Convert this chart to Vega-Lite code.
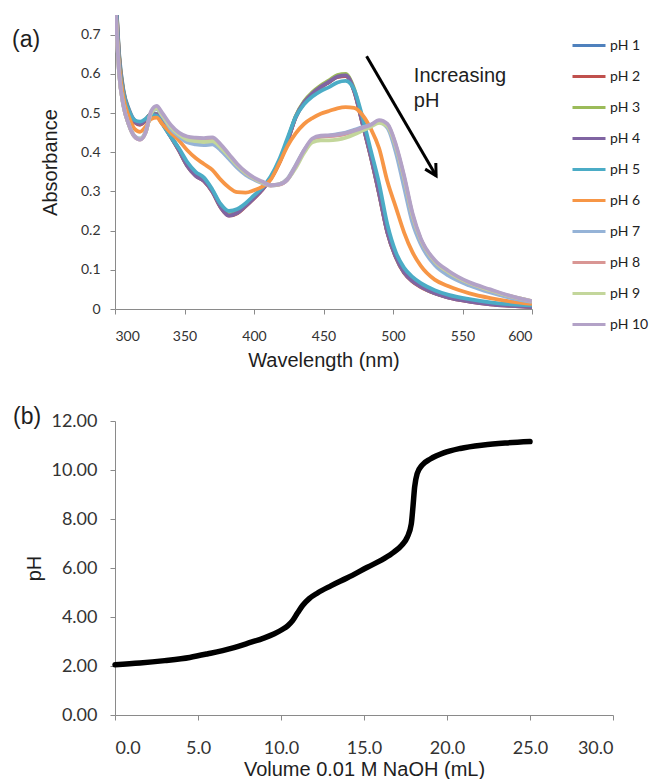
{
"$schema": "https://vega.github.io/schema/vega-lite/v6.json",
"background": "white",
"padding": {"left": 12, "top": 15, "right": 0, "bottom": 0},
"spacing": 36,
"config": {
  "view": {"stroke": null},
  "axis": {"grid": false, "domainColor": "#8a8a8a", "tickColor": "#8a8a8a", "tickSize": 5, "labelColor": "#333333", "titleColor": "#1e1e1e", "titleFontWeight": "normal", "labelFont": "Lato", "titleFont": "Liberation Sans"}
},
"resolve": {"legend": {"color": "independent"}},
"datasets": {
"arrow": [{"x1": 481, "y1": 0.645, "x2": 531, "y2": 0.34}],
"note": [{"x": 515, "y": 0.62, "t": "Increasing\npH"}],
"titration": [
{"v":0,"p":2.05},{"v":1.5,"p":2.12},{"v":3,"p":2.22},{"v":4.5,"p":2.35},{"v":5.6,"p":2.5},{"v":7,"p":2.72},{"v":8.1,"p":2.95},{"v":9,"p":3.15},{"v":9.6,"p":3.32},{"v":10.1,"p":3.5},{"v":10.4,"p":3.64},{"v":10.7,"p":3.85},{"v":11,"p":4.17},{"v":11.3,"p":4.47},{"v":11.7,"p":4.75},{"v":12.2,"p":4.98},{"v":13,"p":5.27},{"v":14,"p":5.6},{"v":15.2,"p":6.03},{"v":16.2,"p":6.38},{"v":16.8,"p":6.65},{"v":17.3,"p":6.95},{"v":17.6,"p":7.25},{"v":17.85,"p":7.8},{"v":17.95,"p":8.5},{"v":18.05,"p":9.3},{"v":18.2,"p":9.85},{"v":18.5,"p":10.2},{"v":19,"p":10.45},{"v":19.8,"p":10.7},{"v":20.8,"p":10.88},{"v":22.2,"p":11.02},{"v":23.5,"p":11.1},{"v":25,"p":11.16}
],
"spectra": [
{"s":"pH 1","w":300,"a":0.85},{"s":"pH 1","w":303,"a":0.65},{"s":"pH 1","w":306,"a":0.56},{"s":"pH 1","w":310,"a":0.51},{"s":"pH 1","w":314,"a":0.482},{"s":"pH 1","w":318,"a":0.475},{"s":"pH 1","w":322,"a":0.484},{"s":"pH 1","w":326,"a":0.498},{"s":"pH 1","w":330,"a":0.498},{"s":"pH 1","w":334,"a":0.477},{"s":"pH 1","w":340,"a":0.443},{"s":"pH 1","w":346,"a":0.408},{"s":"pH 1","w":352,"a":0.368},{"s":"pH 1","w":358,"a":0.343},{"s":"pH 1","w":364,"a":0.329},{"s":"pH 1","w":370,"a":0.302},{"s":"pH 1","w":376,"a":0.262},{"s":"pH 1","w":382,"a":0.241},{"s":"pH 1","w":388,"a":0.247},{"s":"pH 1","w":394,"a":0.265},{"s":"pH 1","w":400,"a":0.285},{"s":"pH 1","w":406,"a":0.306},{"s":"pH 1","w":412,"a":0.334},{"s":"pH 1","w":418,"a":0.373},{"s":"pH 1","w":424,"a":0.428},{"s":"pH 1","w":430,"a":0.49},{"s":"pH 1","w":436,"a":0.527},{"s":"pH 1","w":442,"a":0.55},{"s":"pH 1","w":448,"a":0.566},{"s":"pH 1","w":454,"a":0.579},{"s":"pH 1","w":460,"a":0.592},{"s":"pH 1","w":466,"a":0.595},{"s":"pH 1","w":472,"a":0.557},{"s":"pH 1","w":478,"a":0.475},{"s":"pH 1","w":484,"a":0.39},{"s":"pH 1","w":490,"a":0.296},{"s":"pH 1","w":496,"a":0.196},{"s":"pH 1","w":502,"a":0.134},{"s":"pH 1","w":508,"a":0.094},{"s":"pH 1","w":514,"a":0.072},{"s":"pH 1","w":520,"a":0.058},{"s":"pH 1","w":530,"a":0.041},{"s":"pH 1","w":540,"a":0.03},{"s":"pH 1","w":555,"a":0.02},{"s":"pH 1","w":570,"a":0.013},{"s":"pH 1","w":585,"a":0.009},{"s":"pH 1","w":600,"a":0.006},
{"s":"pH 2","w":300,"a":0.84},{"s":"pH 2","w":303,"a":0.64},{"s":"pH 2","w":306,"a":0.553},{"s":"pH 2","w":310,"a":0.503},{"s":"pH 2","w":314,"a":0.476},{"s":"pH 2","w":318,"a":0.47},{"s":"pH 2","w":322,"a":0.48},{"s":"pH 2","w":326,"a":0.495},{"s":"pH 2","w":330,"a":0.496},{"s":"pH 2","w":334,"a":0.474},{"s":"pH 2","w":340,"a":0.44},{"s":"pH 2","w":346,"a":0.404},{"s":"pH 2","w":352,"a":0.365},{"s":"pH 2","w":358,"a":0.34},{"s":"pH 2","w":364,"a":0.326},{"s":"pH 2","w":370,"a":0.299},{"s":"pH 2","w":376,"a":0.259},{"s":"pH 2","w":382,"a":0.238},{"s":"pH 2","w":388,"a":0.244},{"s":"pH 2","w":394,"a":0.262},{"s":"pH 2","w":400,"a":0.282},{"s":"pH 2","w":406,"a":0.304},{"s":"pH 2","w":412,"a":0.332},{"s":"pH 2","w":418,"a":0.371},{"s":"pH 2","w":424,"a":0.426},{"s":"pH 2","w":430,"a":0.489},{"s":"pH 2","w":436,"a":0.526},{"s":"pH 2","w":442,"a":0.549},{"s":"pH 2","w":448,"a":0.566},{"s":"pH 2","w":454,"a":0.579},{"s":"pH 2","w":460,"a":0.592},{"s":"pH 2","w":466,"a":0.594},{"s":"pH 2","w":472,"a":0.556},{"s":"pH 2","w":478,"a":0.473},{"s":"pH 2","w":484,"a":0.388},{"s":"pH 2","w":490,"a":0.293},{"s":"pH 2","w":496,"a":0.194},{"s":"pH 2","w":502,"a":0.132},{"s":"pH 2","w":508,"a":0.092},{"s":"pH 2","w":514,"a":0.07},{"s":"pH 2","w":520,"a":0.056},{"s":"pH 2","w":530,"a":0.04},{"s":"pH 2","w":540,"a":0.029},{"s":"pH 2","w":555,"a":0.019},{"s":"pH 2","w":570,"a":0.012},{"s":"pH 2","w":585,"a":0.008},{"s":"pH 2","w":600,"a":0.005},
{"s":"pH 3","w":300,"a":0.85},{"s":"pH 3","w":303,"a":0.645},{"s":"pH 3","w":306,"a":0.557},{"s":"pH 3","w":310,"a":0.506},{"s":"pH 3","w":314,"a":0.479},{"s":"pH 3","w":318,"a":0.473},{"s":"pH 3","w":322,"a":0.483},{"s":"pH 3","w":326,"a":0.498},{"s":"pH 3","w":330,"a":0.498},{"s":"pH 3","w":334,"a":0.476},{"s":"pH 3","w":340,"a":0.441},{"s":"pH 3","w":346,"a":0.406},{"s":"pH 3","w":352,"a":0.366},{"s":"pH 3","w":358,"a":0.341},{"s":"pH 3","w":364,"a":0.328},{"s":"pH 3","w":370,"a":0.301},{"s":"pH 3","w":376,"a":0.261},{"s":"pH 3","w":382,"a":0.24},{"s":"pH 3","w":388,"a":0.246},{"s":"pH 3","w":394,"a":0.264},{"s":"pH 3","w":400,"a":0.284},{"s":"pH 3","w":406,"a":0.306},{"s":"pH 3","w":412,"a":0.334},{"s":"pH 3","w":418,"a":0.373},{"s":"pH 3","w":424,"a":0.429},{"s":"pH 3","w":430,"a":0.492},{"s":"pH 3","w":436,"a":0.53},{"s":"pH 3","w":442,"a":0.553},{"s":"pH 3","w":448,"a":0.57},{"s":"pH 3","w":454,"a":0.583},{"s":"pH 3","w":460,"a":0.597},{"s":"pH 3","w":466,"a":0.6},{"s":"pH 3","w":472,"a":0.562},{"s":"pH 3","w":478,"a":0.478},{"s":"pH 3","w":484,"a":0.392},{"s":"pH 3","w":490,"a":0.297},{"s":"pH 3","w":496,"a":0.197},{"s":"pH 3","w":502,"a":0.134},{"s":"pH 3","w":508,"a":0.094},{"s":"pH 3","w":514,"a":0.072},{"s":"pH 3","w":520,"a":0.058},{"s":"pH 3","w":530,"a":0.041},{"s":"pH 3","w":540,"a":0.03},{"s":"pH 3","w":555,"a":0.02},{"s":"pH 3","w":570,"a":0.013},{"s":"pH 3","w":585,"a":0.009},{"s":"pH 3","w":600,"a":0.006},
{"s":"pH 4","w":300,"a":0.85},{"s":"pH 4","w":303,"a":0.64},{"s":"pH 4","w":306,"a":0.555},{"s":"pH 4","w":310,"a":0.505},{"s":"pH 4","w":314,"a":0.478},{"s":"pH 4","w":318,"a":0.472},{"s":"pH 4","w":322,"a":0.482},{"s":"pH 4","w":326,"a":0.497},{"s":"pH 4","w":330,"a":0.497},{"s":"pH 4","w":334,"a":0.475},{"s":"pH 4","w":340,"a":0.44},{"s":"pH 4","w":346,"a":0.405},{"s":"pH 4","w":352,"a":0.365},{"s":"pH 4","w":358,"a":0.34},{"s":"pH 4","w":364,"a":0.327},{"s":"pH 4","w":370,"a":0.3},{"s":"pH 4","w":376,"a":0.26},{"s":"pH 4","w":382,"a":0.238},{"s":"pH 4","w":388,"a":0.245},{"s":"pH 4","w":394,"a":0.263},{"s":"pH 4","w":400,"a":0.283},{"s":"pH 4","w":406,"a":0.305},{"s":"pH 4","w":412,"a":0.333},{"s":"pH 4","w":418,"a":0.372},{"s":"pH 4","w":424,"a":0.427},{"s":"pH 4","w":430,"a":0.49},{"s":"pH 4","w":436,"a":0.527},{"s":"pH 4","w":442,"a":0.55},{"s":"pH 4","w":448,"a":0.567},{"s":"pH 4","w":454,"a":0.58},{"s":"pH 4","w":460,"a":0.593},{"s":"pH 4","w":466,"a":0.596},{"s":"pH 4","w":472,"a":0.558},{"s":"pH 4","w":478,"a":0.475},{"s":"pH 4","w":484,"a":0.39},{"s":"pH 4","w":490,"a":0.295},{"s":"pH 4","w":496,"a":0.195},{"s":"pH 4","w":502,"a":0.133},{"s":"pH 4","w":508,"a":0.093},{"s":"pH 4","w":514,"a":0.071},{"s":"pH 4","w":520,"a":0.057},{"s":"pH 4","w":530,"a":0.04},{"s":"pH 4","w":540,"a":0.029},{"s":"pH 4","w":555,"a":0.019},{"s":"pH 4","w":570,"a":0.012},{"s":"pH 4","w":585,"a":0.008},{"s":"pH 4","w":600,"a":0.005},
{"s":"pH 5","w":300,"a":0.83},{"s":"pH 5","w":303,"a":0.63},{"s":"pH 5","w":306,"a":0.55},{"s":"pH 5","w":310,"a":0.505},{"s":"pH 5","w":314,"a":0.482},{"s":"pH 5","w":318,"a":0.478},{"s":"pH 5","w":322,"a":0.485},{"s":"pH 5","w":326,"a":0.495},{"s":"pH 5","w":330,"a":0.493},{"s":"pH 5","w":334,"a":0.472},{"s":"pH 5","w":340,"a":0.44},{"s":"pH 5","w":346,"a":0.41},{"s":"pH 5","w":352,"a":0.375},{"s":"pH 5","w":358,"a":0.35},{"s":"pH 5","w":364,"a":0.335},{"s":"pH 5","w":370,"a":0.305},{"s":"pH 5","w":376,"a":0.268},{"s":"pH 5","w":382,"a":0.25},{"s":"pH 5","w":388,"a":0.255},{"s":"pH 5","w":394,"a":0.27},{"s":"pH 5","w":400,"a":0.29},{"s":"pH 5","w":406,"a":0.31},{"s":"pH 5","w":412,"a":0.338},{"s":"pH 5","w":418,"a":0.38},{"s":"pH 5","w":424,"a":0.435},{"s":"pH 5","w":430,"a":0.49},{"s":"pH 5","w":436,"a":0.522},{"s":"pH 5","w":442,"a":0.542},{"s":"pH 5","w":448,"a":0.556},{"s":"pH 5","w":454,"a":0.566},{"s":"pH 5","w":460,"a":0.578},{"s":"pH 5","w":466,"a":0.582},{"s":"pH 5","w":472,"a":0.56},{"s":"pH 5","w":478,"a":0.49},{"s":"pH 5","w":484,"a":0.405},{"s":"pH 5","w":490,"a":0.32},{"s":"pH 5","w":496,"a":0.215},{"s":"pH 5","w":502,"a":0.145},{"s":"pH 5","w":508,"a":0.105},{"s":"pH 5","w":514,"a":0.082},{"s":"pH 5","w":520,"a":0.066},{"s":"pH 5","w":530,"a":0.048},{"s":"pH 5","w":540,"a":0.036},{"s":"pH 5","w":555,"a":0.025},{"s":"pH 5","w":570,"a":0.017},{"s":"pH 5","w":585,"a":0.012},{"s":"pH 5","w":600,"a":0.009},
{"s":"pH 6","w":300,"a":0.8},{"s":"pH 6","w":303,"a":0.62},{"s":"pH 6","w":306,"a":0.54},{"s":"pH 6","w":310,"a":0.49},{"s":"pH 6","w":314,"a":0.46},{"s":"pH 6","w":318,"a":0.452},{"s":"pH 6","w":322,"a":0.465},{"s":"pH 6","w":326,"a":0.485},{"s":"pH 6","w":330,"a":0.488},{"s":"pH 6","w":334,"a":0.472},{"s":"pH 6","w":340,"a":0.45},{"s":"pH 6","w":346,"a":0.43},{"s":"pH 6","w":352,"a":0.405},{"s":"pH 6","w":358,"a":0.385},{"s":"pH 6","w":364,"a":0.37},{"s":"pH 6","w":370,"a":0.355},{"s":"pH 6","w":376,"a":0.33},{"s":"pH 6","w":382,"a":0.31},{"s":"pH 6","w":388,"a":0.298},{"s":"pH 6","w":394,"a":0.297},{"s":"pH 6","w":400,"a":0.303},{"s":"pH 6","w":406,"a":0.312},{"s":"pH 6","w":412,"a":0.33},{"s":"pH 6","w":418,"a":0.37},{"s":"pH 6","w":424,"a":0.415},{"s":"pH 6","w":430,"a":0.448},{"s":"pH 6","w":436,"a":0.472},{"s":"pH 6","w":442,"a":0.487},{"s":"pH 6","w":448,"a":0.498},{"s":"pH 6","w":454,"a":0.505},{"s":"pH 6","w":460,"a":0.512},{"s":"pH 6","w":466,"a":0.515},{"s":"pH 6","w":472,"a":0.513},{"s":"pH 6","w":478,"a":0.495},{"s":"pH 6","w":484,"a":0.46},{"s":"pH 6","w":490,"a":0.41},{"s":"pH 6","w":496,"a":0.325},{"s":"pH 6","w":502,"a":0.26},{"s":"pH 6","w":508,"a":0.195},{"s":"pH 6","w":514,"a":0.145},{"s":"pH 6","w":520,"a":0.11},{"s":"pH 6","w":530,"a":0.075},{"s":"pH 6","w":540,"a":0.058},{"s":"pH 6","w":555,"a":0.04},{"s":"pH 6","w":570,"a":0.028},{"s":"pH 6","w":585,"a":0.019},{"s":"pH 6","w":600,"a":0.013},
{"s":"pH 7","w":300,"a":0.79},{"s":"pH 7","w":303,"a":0.6},{"s":"pH 7","w":306,"a":0.52},{"s":"pH 7","w":310,"a":0.47},{"s":"pH 7","w":314,"a":0.442},{"s":"pH 7","w":318,"a":0.435},{"s":"pH 7","w":322,"a":0.452},{"s":"pH 7","w":326,"a":0.5},{"s":"pH 7","w":330,"a":0.51},{"s":"pH 7","w":334,"a":0.492},{"s":"pH 7","w":340,"a":0.46},{"s":"pH 7","w":346,"a":0.44},{"s":"pH 7","w":352,"a":0.425},{"s":"pH 7","w":358,"a":0.42},{"s":"pH 7","w":364,"a":0.418},{"s":"pH 7","w":370,"a":0.42},{"s":"pH 7","w":376,"a":0.405},{"s":"pH 7","w":382,"a":0.383},{"s":"pH 7","w":388,"a":0.36},{"s":"pH 7","w":394,"a":0.342},{"s":"pH 7","w":400,"a":0.33},{"s":"pH 7","w":406,"a":0.321},{"s":"pH 7","w":412,"a":0.315},{"s":"pH 7","w":418,"a":0.318},{"s":"pH 7","w":424,"a":0.332},{"s":"pH 7","w":430,"a":0.367},{"s":"pH 7","w":436,"a":0.405},{"s":"pH 7","w":442,"a":0.432},{"s":"pH 7","w":448,"a":0.44},{"s":"pH 7","w":454,"a":0.442},{"s":"pH 7","w":460,"a":0.446},{"s":"pH 7","w":466,"a":0.45},{"s":"pH 7","w":472,"a":0.457},{"s":"pH 7","w":478,"a":0.464},{"s":"pH 7","w":484,"a":0.47},{"s":"pH 7","w":490,"a":0.476},{"s":"pH 7","w":496,"a":0.462},{"s":"pH 7","w":502,"a":0.4},{"s":"pH 7","w":508,"a":0.31},{"s":"pH 7","w":514,"a":0.22},{"s":"pH 7","w":520,"a":0.165},{"s":"pH 7","w":530,"a":0.112},{"s":"pH 7","w":540,"a":0.085},{"s":"pH 7","w":555,"a":0.06},{"s":"pH 7","w":570,"a":0.042},{"s":"pH 7","w":585,"a":0.028},{"s":"pH 7","w":600,"a":0.018},
{"s":"pH 8","w":300,"a":0.8},{"s":"pH 8","w":303,"a":0.6},{"s":"pH 8","w":306,"a":0.52},{"s":"pH 8","w":310,"a":0.47},{"s":"pH 8","w":314,"a":0.44},{"s":"pH 8","w":318,"a":0.432},{"s":"pH 8","w":322,"a":0.45},{"s":"pH 8","w":326,"a":0.502},{"s":"pH 8","w":330,"a":0.515},{"s":"pH 8","w":334,"a":0.497},{"s":"pH 8","w":340,"a":0.467},{"s":"pH 8","w":346,"a":0.447},{"s":"pH 8","w":352,"a":0.436},{"s":"pH 8","w":358,"a":0.432},{"s":"pH 8","w":364,"a":0.431},{"s":"pH 8","w":370,"a":0.433},{"s":"pH 8","w":376,"a":0.416},{"s":"pH 8","w":382,"a":0.392},{"s":"pH 8","w":388,"a":0.367},{"s":"pH 8","w":394,"a":0.347},{"s":"pH 8","w":400,"a":0.333},{"s":"pH 8","w":406,"a":0.323},{"s":"pH 8","w":412,"a":0.315},{"s":"pH 8","w":418,"a":0.317},{"s":"pH 8","w":424,"a":0.33},{"s":"pH 8","w":430,"a":0.364},{"s":"pH 8","w":436,"a":0.403},{"s":"pH 8","w":442,"a":0.432},{"s":"pH 8","w":448,"a":0.44},{"s":"pH 8","w":454,"a":0.441},{"s":"pH 8","w":460,"a":0.443},{"s":"pH 8","w":466,"a":0.447},{"s":"pH 8","w":472,"a":0.453},{"s":"pH 8","w":478,"a":0.46},{"s":"pH 8","w":484,"a":0.468},{"s":"pH 8","w":490,"a":0.479},{"s":"pH 8","w":496,"a":0.47},{"s":"pH 8","w":502,"a":0.417},{"s":"pH 8","w":508,"a":0.335},{"s":"pH 8","w":514,"a":0.24},{"s":"pH 8","w":520,"a":0.177},{"s":"pH 8","w":530,"a":0.122},{"s":"pH 8","w":540,"a":0.094},{"s":"pH 8","w":555,"a":0.066},{"s":"pH 8","w":570,"a":0.048},{"s":"pH 8","w":585,"a":0.032},{"s":"pH 8","w":600,"a":0.02},
{"s":"pH 9","w":300,"a":0.8},{"s":"pH 9","w":303,"a":0.6},{"s":"pH 9","w":306,"a":0.52},{"s":"pH 9","w":310,"a":0.47},{"s":"pH 9","w":314,"a":0.44},{"s":"pH 9","w":318,"a":0.433},{"s":"pH 9","w":322,"a":0.45},{"s":"pH 9","w":326,"a":0.5},{"s":"pH 9","w":330,"a":0.512},{"s":"pH 9","w":334,"a":0.495},{"s":"pH 9","w":340,"a":0.465},{"s":"pH 9","w":346,"a":0.445},{"s":"pH 9","w":352,"a":0.432},{"s":"pH 9","w":358,"a":0.428},{"s":"pH 9","w":364,"a":0.426},{"s":"pH 9","w":370,"a":0.428},{"s":"pH 9","w":376,"a":0.412},{"s":"pH 9","w":382,"a":0.39},{"s":"pH 9","w":388,"a":0.366},{"s":"pH 9","w":394,"a":0.347},{"s":"pH 9","w":400,"a":0.333},{"s":"pH 9","w":406,"a":0.323},{"s":"pH 9","w":412,"a":0.316},{"s":"pH 9","w":418,"a":0.318},{"s":"pH 9","w":424,"a":0.33},{"s":"pH 9","w":430,"a":0.36},{"s":"pH 9","w":436,"a":0.398},{"s":"pH 9","w":442,"a":0.425},{"s":"pH 9","w":448,"a":0.43},{"s":"pH 9","w":454,"a":0.43},{"s":"pH 9","w":460,"a":0.432},{"s":"pH 9","w":466,"a":0.437},{"s":"pH 9","w":472,"a":0.445},{"s":"pH 9","w":478,"a":0.455},{"s":"pH 9","w":484,"a":0.465},{"s":"pH 9","w":490,"a":0.475},{"s":"pH 9","w":496,"a":0.466},{"s":"pH 9","w":502,"a":0.415},{"s":"pH 9","w":508,"a":0.335},{"s":"pH 9","w":514,"a":0.24},{"s":"pH 9","w":520,"a":0.177},{"s":"pH 9","w":530,"a":0.122},{"s":"pH 9","w":540,"a":0.094},{"s":"pH 9","w":555,"a":0.066},{"s":"pH 9","w":570,"a":0.048},{"s":"pH 9","w":585,"a":0.032},{"s":"pH 9","w":600,"a":0.02},
{"s":"pH 10","w":300,"a":0.8},{"s":"pH 10","w":303,"a":0.6},{"s":"pH 10","w":306,"a":0.52},{"s":"pH 10","w":310,"a":0.47},{"s":"pH 10","w":314,"a":0.44},{"s":"pH 10","w":318,"a":0.432},{"s":"pH 10","w":322,"a":0.45},{"s":"pH 10","w":326,"a":0.505},{"s":"pH 10","w":330,"a":0.518},{"s":"pH 10","w":334,"a":0.5},{"s":"pH 10","w":340,"a":0.47},{"s":"pH 10","w":346,"a":0.45},{"s":"pH 10","w":352,"a":0.44},{"s":"pH 10","w":358,"a":0.437},{"s":"pH 10","w":364,"a":0.436},{"s":"pH 10","w":370,"a":0.438},{"s":"pH 10","w":376,"a":0.42},{"s":"pH 10","w":382,"a":0.395},{"s":"pH 10","w":388,"a":0.37},{"s":"pH 10","w":394,"a":0.35},{"s":"pH 10","w":400,"a":0.335},{"s":"pH 10","w":406,"a":0.325},{"s":"pH 10","w":412,"a":0.316},{"s":"pH 10","w":418,"a":0.318},{"s":"pH 10","w":424,"a":0.33},{"s":"pH 10","w":430,"a":0.365},{"s":"pH 10","w":436,"a":0.405},{"s":"pH 10","w":442,"a":0.435},{"s":"pH 10","w":448,"a":0.442},{"s":"pH 10","w":454,"a":0.443},{"s":"pH 10","w":460,"a":0.445},{"s":"pH 10","w":466,"a":0.449},{"s":"pH 10","w":472,"a":0.455},{"s":"pH 10","w":478,"a":0.462},{"s":"pH 10","w":484,"a":0.47},{"s":"pH 10","w":490,"a":0.482},{"s":"pH 10","w":496,"a":0.472},{"s":"pH 10","w":502,"a":0.42},{"s":"pH 10","w":508,"a":0.34},{"s":"pH 10","w":514,"a":0.245},{"s":"pH 10","w":520,"a":0.18},{"s":"pH 10","w":530,"a":0.125},{"s":"pH 10","w":540,"a":0.097},{"s":"pH 10","w":555,"a":0.068},{"s":"pH 10","w":570,"a":0.05},{"s":"pH 10","w":585,"a":0.033},{"s":"pH 10","w":600,"a":0.02}
]
},
"vconcat": [
{
  "width": 417,
  "height": 294,
  "title": {"text": "(a)", "orient": "top", "anchor": "start", "frame": "group", "align": "left", "fontSize": 23, "font": "Liberation Sans", "fontWeight": "normal", "color": "#1e1e1e", "dx": -103, "dy": 37, "offset": 0},
  "layer": [
    {
      "data": {"name": "spectra"},
      "mark": {"type": "line", "clip": true, "strokeWidth": 3.8, "interpolate": "monotone"},
      "encoding": {
        "x": {"field": "w", "type": "quantitative", "scale": {"domain": [300, 600], "nice": false},
              "axis": {"title": "Wavelength (nm)", "values": [300, 350, 400, 450, 500, 550, 600], "labelFontSize": 14, "labelPadding": 15, "titleFontSize": 20, "titlePadding": 7}},
        "y": {"field": "a", "type": "quantitative", "scale": {"domain": [0, 0.75], "nice": false},
              "axis": {"title": "Absorbance", "values": [0, 0.1, 0.2, 0.3, 0.4, 0.5, 0.6, 0.7], "format": ".1~f", "labelFontSize": 14, "labelPadding": 10, "titleFontSize": 20, "titlePadding": 20}},
        "color": {"field": "s", "type": "nominal",
                  "scale": {"domain": ["pH 1", "pH 2", "pH 3", "pH 4", "pH 5", "pH 6", "pH 7", "pH 8", "pH 9", "pH 10"],
                            "range": ["#4F81BD", "#C0504D", "#9BBB59", "#8064A2", "#4BACC6", "#F79646", "#95B3D7", "#D99694", "#C3D69B", "#B3A2C7"]},
                  "legend": {"orient": "none", "legendX": 456, "legendY": 15, "title": null, "symbolType": "stroke", "symbolSize": 1089, "symbolStrokeWidth": 3, "labelFont": "Lato", "labelFontSize": 14, "labelColor": "#222222", "labelOffset": 3, "clipHeight": 31, "rowPadding": 0}}
      }
    },
    {
      "data": {"name": "arrow"},
      "mark": {"type": "rule", "strokeWidth": 3, "color": "black"},
      "encoding": {"x": {"field": "x1", "type": "quantitative"}, "y": {"field": "y1", "type": "quantitative"}, "x2": {"field": "x2"}, "y2": {"field": "y2"}}
    },
    {
      "data": {"name": "arrow"},
      "mark": {"type": "point", "shape": "M-0.55,1L0,0L0.55,1", "filled": false, "strokeWidth": 3, "color": "black", "opacity": 1, "size": 500, "angle": 150},
      "encoding": {"x": {"field": "x2", "type": "quantitative"}, "y": {"field": "y2", "type": "quantitative"}}
    },
    {
      "data": {"name": "note"},
      "mark": {"type": "text", "align": "left", "baseline": "top", "font": "Liberation Sans", "fontSize": 20, "lineHeight": 25, "lineBreak": "\n", "color": "#1e1e1e"},
      "encoding": {"x": {"field": "x", "type": "quantitative"}, "y": {"field": "y", "type": "quantitative"}, "text": {"field": "t"}}
    }
  ]
},
{
  "width": 498,
  "height": 294,
  "title": {"text": "(b)", "orient": "top", "anchor": "start", "frame": "group", "align": "left", "fontSize": 23, "font": "Liberation Sans", "fontWeight": "normal", "color": "#1e1e1e", "dx": -102, "dy": 17, "offset": 0},
  "data": {"name": "titration"},
  "mark": {"type": "line", "color": "black", "strokeWidth": 5.5, "interpolate": "monotone", "strokeCap": "round"},
  "encoding": {
    "x": {"field": "v", "type": "quantitative", "scale": {"domain": [0, 30], "nice": false},
          "axis": {"title": "Volume 0.01 M NaOH (mL)", "values": [0, 5, 10, 15, 20, 25, 30], "format": ".1f", "labelFontSize": 18, "labelPadding": 19, "titleFontSize": 20, "titlePadding": 2}},
    "y": {"field": "p", "type": "quantitative", "scale": {"domain": [0, 12], "nice": false},
          "axis": {"title": "pH", "values": [0, 2, 4, 6, 8, 10, 12], "format": ".2f", "labelFontSize": 18, "labelPadding": 13, "titleFontSize": 20, "titlePadding": 6}}
  }
}
]
}
